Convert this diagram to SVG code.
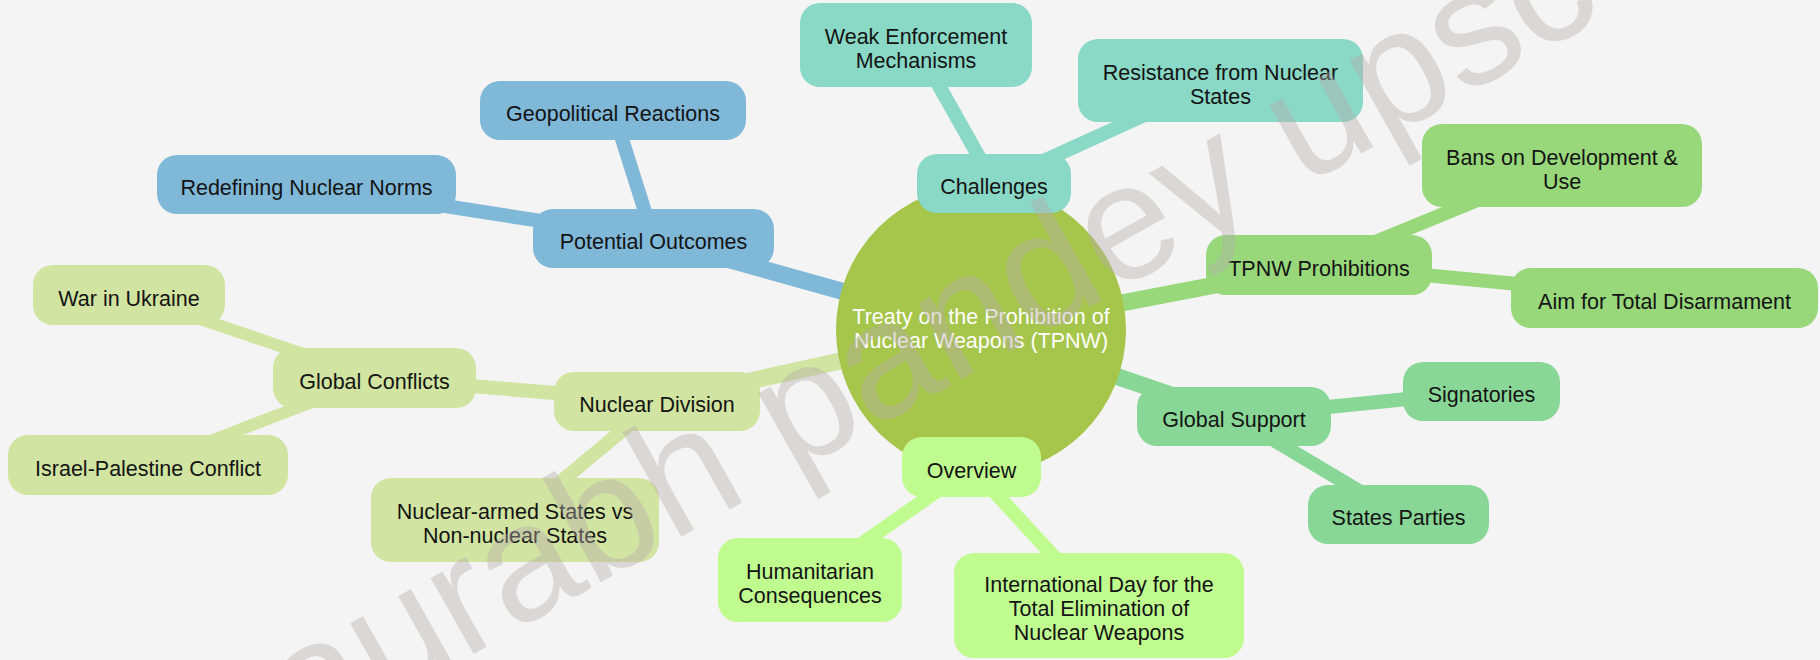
<svg xmlns="http://www.w3.org/2000/svg" width="1820" height="660" viewBox="0 0 1820 660">
<style>
  .bg{fill:#f4f4f4}
  text{font-family:"Liberation Sans",Arial,sans-serif;font-size:21.5px;fill:#141414;text-anchor:middle}
  .root text{fill:#ffffff}
  .e0{stroke-width:17;stroke-linecap:butt;fill:none}
  .e1{stroke-width:14;stroke-linecap:butt;fill:none}
  .e2{stroke-width:12;stroke-linecap:butt;fill:none}
  .s-teal{fill:#8ad8c6}.l-teal{stroke:#8ad8c6}
  .s-blue{fill:#80b8d8}.l-blue{stroke:#80b8d8}
  .s-yg{fill:#d1e4a1}.l-yg{stroke:#d1e4a1}
  .s-lg{fill:#c0fb8f}.l-lg{stroke:#c0fb8f}
  .s-g2{fill:#89d797}.l-g2{stroke:#89d797}
  .s-g3{fill:#98d87b}.l-g3{stroke:#98d87b}
  .wm{font-family:"Liberation Sans",Arial,sans-serif;font-size:165px;fill:#b8adad;opacity:0.4;text-anchor:start}
</style>
<rect class="bg" x="0" y="0" width="1820" height="660"/>
<g id="connectors">
  <line class="e0 l-teal" x1="981" y1="330" x2="994" y2="183.5"/>
  <line class="e0 l-blue" x1="981" y1="330" x2="653.5" y2="238.5"/>
  <line class="e0 l-yg" x1="981" y1="330" x2="657" y2="401.5"/>
  <line class="e0 l-lg" x1="981" y1="330" x2="971.5" y2="467"/>
  <line class="e0 l-g2" x1="981" y1="330" x2="1234" y2="416.5"/>
  <line class="e0 l-g3" x1="981" y1="330" x2="1319" y2="265"/>
  <line class="e1 l-teal" x1="994" y1="183.5" x2="916" y2="45"/>
  <line class="e1 l-teal" x1="994" y1="183.5" x2="1220.5" y2="80.5"/>
  <line class="e1 l-blue" x1="653.5" y1="238.5" x2="613" y2="110.5"/>
  <line class="e1 l-blue" x1="653.5" y1="238.5" x2="306.5" y2="184.5"/>
  <line class="e1 l-yg" x1="657" y1="401.5" x2="374.5" y2="378"/>
  <line class="e1 l-yg" x1="657" y1="401.5" x2="515" y2="520"/>
  <line class="e2 l-yg" x1="374.5" y1="378" x2="129" y2="295"/>
  <line class="e2 l-yg" x1="374.5" y1="378" x2="148" y2="465"/>
  <line class="e1 l-lg" x1="971.5" y1="467" x2="810" y2="580"/>
  <line class="e1 l-lg" x1="971.5" y1="467" x2="1099" y2="605.5"/>
  <line class="e1 l-g2" x1="1234" y1="416.5" x2="1481.5" y2="391.5"/>
  <line class="e1 l-g2" x1="1234" y1="416.5" x2="1398.5" y2="514.5"/>
  <line class="e1 l-g3" x1="1319" y1="265" x2="1562" y2="165.5"/>
  <line class="e1 l-g3" x1="1319" y1="265" x2="1664.5" y2="298"/>
</g>
<g id="root" class="root">
  <circle cx="981" cy="330" r="145" fill="#a6c54b"/>
  <text x="981" y="323.5">Treaty on the Prohibition of</text>
  <text x="981" y="347.5">Nuclear Weapons (TPNW)</text>
</g>
<g id="challenges"><rect class="s-teal" x="917" y="154" width="154" height="59" rx="20"/><text x="994" y="194">Challenges</text></g>
<g id="weak-enforcement"><rect class="s-teal" x="800" y="3" width="232" height="84" rx="20"/><text x="916" y="44">Weak Enforcement</text><text x="916" y="68">Mechanisms</text></g>
<g id="resistance"><rect class="s-teal" x="1078" y="39" width="285" height="83" rx="20"/><text x="1220.5" y="79.5">Resistance from Nuclear</text><text x="1220.5" y="103.5">States</text></g>
<g id="potential-outcomes"><rect class="s-blue" x="533" y="209" width="241" height="59" rx="20"/><text x="653.5" y="249">Potential Outcomes</text></g>
<g id="geopolitical"><rect class="s-blue" x="480" y="81" width="266" height="59" rx="20"/><text x="613" y="121">Geopolitical Reactions</text></g>
<g id="redefining"><rect class="s-blue" x="157" y="155" width="299" height="59" rx="20"/><text x="306.5" y="195">Redefining Nuclear Norms</text></g>
<g id="nuclear-division"><rect class="s-yg" x="554" y="372" width="206" height="59" rx="20"/><text x="657" y="412">Nuclear Division</text></g>
<g id="global-conflicts"><rect class="s-yg" x="273" y="348" width="203" height="60" rx="20"/><text x="374.5" y="388.5">Global Conflicts</text></g>
<g id="war-ukraine"><rect class="s-yg" x="33" y="265" width="192" height="60" rx="20"/><text x="129" y="305.5">War in Ukraine</text></g>
<g id="israel-palestine"><rect class="s-yg" x="8" y="435" width="280" height="60" rx="20"/><text x="148" y="475.5">Israel-Palestine Conflict</text></g>
<g id="nuclear-armed"><rect class="s-yg" x="371" y="478" width="288" height="84" rx="20"/><text x="515" y="519">Nuclear-armed States vs</text><text x="515" y="543">Non-nuclear States</text></g>
<g id="overview"><rect class="s-lg" x="902" y="437" width="139" height="60" rx="20"/><text x="971.5" y="477.5">Overview</text></g>
<g id="humanitarian"><rect class="s-lg" x="718" y="538" width="184" height="84" rx="20"/><text x="810" y="579">Humanitarian</text><text x="810" y="603">Consequences</text></g>
<g id="international-day"><rect class="s-lg" x="954" y="553" width="290" height="105" rx="20"/><text x="1099" y="592">International Day for the</text><text x="1099" y="616">Total Elimination of</text><text x="1099" y="640">Nuclear Weapons</text></g>
<g id="global-support"><rect class="s-g2" x="1137" y="387" width="194" height="59" rx="20"/><text x="1234" y="427">Global Support</text></g>
<g id="signatories"><rect class="s-g2" x="1403" y="362" width="157" height="59" rx="20"/><text x="1481.5" y="402">Signatories</text></g>
<g id="states-parties"><rect class="s-g2" x="1308" y="485" width="181" height="59" rx="20"/><text x="1398.5" y="525">States Parties</text></g>
<g id="tpnw-prohibitions"><rect class="s-g3" x="1206" y="235" width="226" height="60" rx="20"/><text x="1319" y="275.5">TPNW Prohibitions</text></g>
<g id="bans"><rect class="s-g3" x="1422" y="124" width="280" height="83" rx="20"/><text x="1562" y="164.5">Bans on Development &amp;</text><text x="1562" y="188.5">Use</text></g>
<g id="aim"><rect class="s-g3" x="1511" y="268" width="307" height="60" rx="20"/><text x="1664.5" y="308.5">Aim for Total Disarmament</text></g>
<text class="wm" transform="translate(232,790) rotate(-29.4)">saurabh pandey upsc</text>
</svg>
